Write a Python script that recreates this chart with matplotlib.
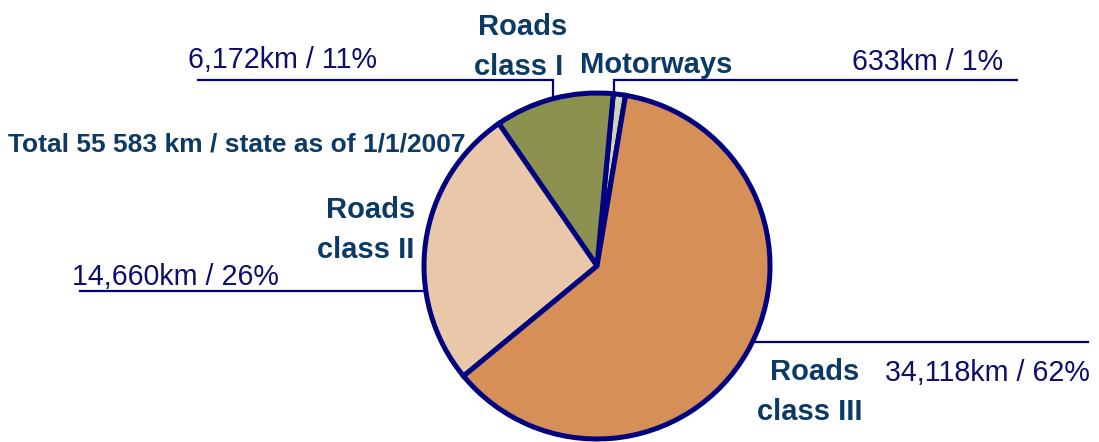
import numpy as np
import matplotlib
matplotlib.use("Agg")
import matplotlib.pyplot as plt

# ---- data ----
categories = ["Motorways", "Roads class I", "Roads class II", "Roads class III"]
lengths_km = [633, 6172, 14660, 34118]
percent_labels = ["1%", "11%", "26%", "62%"]
value_labels = ["633km / 1%", "6,172km / 11%", "14,660km / 26%", "34,118km / 62%"]
name_labels = ["Motorways", "Roads\nclass I", "Roads\nclass II", "Roads\nclass III"]
title_text = "Total 55 583 km / state as of 1/1/2007"

# ---- style ----
colors = ["#D2D2B4", "#8B914F", "#E9C7A9", "#D68F56"]
edge_col = "#000080"
name_col = "#0B3A66"
value_col = "#0D0D6B"
plt.rcParams['font.family'] = ['Liberation Sans', 'DejaVu Sans']

W, H = 1099, 442
fig = plt.figure(figsize=(W / 100, H / 100), dpi=100)
ax = fig.add_axes([0, 0, 1, 1])

def Y(y):
    return H - y

cx, cy, r = 597, Y(266), 173
ax.pie(lengths_km, colors=colors, startangle=80.5, counterclock=True,
       center=(cx, cy), radius=r,
       wedgeprops=dict(edgecolor=edge_col, linewidth=3.6, joinstyle='miter'))
ax.set_xlim(0, W)
ax.set_ylim(0, H)
ax.set_aspect('equal')
ax.axis('off')

def edge_y_top(x):
    return cy + np.sqrt(r ** 2 - (x - cx) ** 2)

def edge_x(y, side):
    return cx + side * np.sqrt(r ** 2 - (y - cy) ** 2)

lw = 1.6
# class I leader
ax.plot([198, 553, 553], [Y(80), Y(80), edge_y_top(553)], color=edge_col, lw=lw,
        solid_joinstyle='miter')
# motorways leader
ax.plot([1017, 614, 614], [Y(80), Y(80), edge_y_top(614)], color=edge_col, lw=lw,
        solid_joinstyle='miter')
# class II leader
ax.plot([80, edge_x(Y(291), -1)], [Y(291), Y(291)], color=edge_col, lw=lw)
# class III leader
ax.plot([edge_x(Y(342), 1), 1088], [Y(342), Y(342)], color=edge_col, lw=lw)

vfs = 20.6
nfs = 21
ax.text(188, Y(68), value_labels[1], fontsize=vfs, color=value_col, ha='left', va='baseline')
ax.text(852, Y(70), value_labels[0], fontsize=vfs, color=value_col, ha='left', va='baseline')
ax.text(72, Y(285), value_labels[2], fontsize=vfs, color=value_col, ha='left', va='baseline')
ax.text(885, Y(381), value_labels[3], fontsize=vfs, color=value_col, ha='left', va='baseline')

def name(lbl, xs, ys, ha):
    for line, x, y in zip(lbl.split("\n"), xs, ys):
        ax.text(x, Y(y), line, fontsize=nfs, color=name_col, fontweight='bold',
                ha=ha, va='baseline')

name(name_labels[0], [580], [73], 'left')
name(name_labels[1], [523, 519], [35, 75], 'center')
name(name_labels[2], [415, 414], [218, 258], 'right')
name(name_labels[3], [815, 810], [380, 420], 'center')
ax.text(8, Y(151), title_text, fontsize=19, color=name_col, fontweight='bold',
        ha='left', va='baseline')

fig.savefig("out.png", dpi=100)
